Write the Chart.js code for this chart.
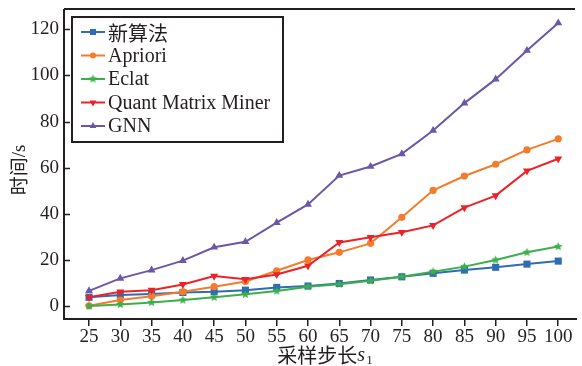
<!DOCTYPE html>
<html>
<head>
<meta charset="utf-8">
<script src="https://cdn.jsdelivr.net/npm/chart.js@4.4.1/dist/chart.umd.min.js"></script>
<style>
  html, body { margin: 0; padding: 0; background: #ffffff; }
  #wrap { width: 582px; height: 366px; }
</style>
</head>
<body>
<div id="wrap"><canvas id="c" width="582" height="366"></canvas></div>
<script>
// Sampling step s1 (x axis)
const steps = [25, 30, 35, 40, 45, 50, 55, 60, 65, 70, 75, 80, 85, 90, 95, 100];
// Run time in seconds for each algorithm
const newAlgorithm = [3.8, 4.8, 5.2, 5.9, 6.2, 6.9, 8.1, 8.7, 9.8, 11.3, 12.7, 14.2, 15.6, 16.8, 18.2, 19.5];
const apriori      = [0.1, 2.6, 4.3, 6.2, 8.4, 10.7, 15.3, 20.0, 23.3, 27.2, 38.5, 50.2, 56.4, 61.5, 67.7, 72.5];
const eclat        = [0.0, 0.7, 1.6, 2.6, 3.8, 5.1, 6.5, 8.4, 9.5, 11.0, 12.7, 14.9, 17.1, 20.0, 23.3, 25.8];
const quantMatrix  = [3.8, 6.2, 6.9, 9.4, 13.0, 11.6, 13.7, 17.5, 27.6, 29.8, 32.0, 35.0, 42.7, 47.9, 58.6, 63.9];
const gnn          = [6.6, 12.0, 15.6, 19.7, 25.5, 27.9, 36.2, 44.1, 56.6, 60.5, 66.0, 76.1, 88.0, 98.4, 110.8, 122.7];
// Axis tick labels
const xTicks = steps;
const yTicks = [0, 20, 40, 60, 80, 100, 120];

const seriesNames = ['新算法', 'Apriori', 'Eclat', 'Quant Matrix Miner', 'GNN'];
const INK = '#231f20';
const SERIF = '"Liberation Serif", "Times New Roman", "Noto Sans CJK SC", serif';
const CJK = '"Noto Sans CJK SC", "Liberation Serif", serif';

// small filled five-point star used as a marker
function makeStar(color, r) {
  const s = Math.ceil(r * 2 + 2);
  const cv = document.createElement('canvas');
  cv.width = s; cv.height = s;
  const g = cv.getContext('2d');
  g.fillStyle = color;
  g.beginPath();
  for (let i = 0; i < 10; i++) {
    const rad = i % 2 === 0 ? r : r * 0.45;
    const a = -Math.PI / 2 + i * Math.PI / 5;
    const px = s / 2 + rad * Math.cos(a), py = s / 2 + rad * Math.sin(a);
    if (i === 0) g.moveTo(px, py); else g.lineTo(px, py);
  }
  g.closePath();
  g.fill();
  return cv;
}

const colors = ['#2e6cb5', '#f47b2c', '#3cae4a', '#ec2227', '#6a57a7'];
const starMarker = makeStar(colors[2], 4.5);

function pts(arr) { return steps.map((x, i) => ({ x: x, y: arr[i] })); }

const styles = [
  { pointStyle: 'rect', pointRadius: 5, rotation: 0 },
  { pointStyle: 'circle', pointRadius: 3.6, rotation: 0 },
  { pointStyle: starMarker, pointRadius: 4.5, rotation: 0 },
  { pointStyle: 'triangle', pointRadius: 4.6, rotation: 180 },
  { pointStyle: 'triangle', pointRadius: 4.6, rotation: 0 }
];
const seriesData = [newAlgorithm, apriori, eclat, quantMatrix, gnn];

const datasets = seriesData.map((arr, i) => ({
  label: seriesNames[i],
  data: pts(arr),
  borderColor: colors[i],
  backgroundColor: colors[i],
  borderWidth: 2,
  pointStyle: styles[i].pointStyle,
  pointRadius: styles[i].pointRadius,
  pointRotation: styles[i].rotation,
  pointBorderWidth: 0,
  pointBackgroundColor: colors[i],
  pointBorderColor: colors[i],
  tension: 0,
  order: 5 - i
}));

// frame, inward y ticks, axis titles and legend box
const decorations = {
  id: 'decorations',
  afterDraw(chart) {
    const { ctx, chartArea: a, scales } = chart;
    ctx.save();
    ctx.strokeStyle = INK;
    ctx.lineWidth = 2;
    ctx.beginPath();
    ctx.moveTo(a.left, a.top); ctx.lineTo(a.right - 2, a.top);
    ctx.moveTo(a.left, a.top); ctx.lineTo(a.left, a.bottom);
    ctx.moveTo(a.left - 1, a.bottom); ctx.lineTo(a.right, a.bottom);
    ctx.stroke();

    ctx.lineWidth = 1.5;
    ctx.beginPath();
    yTicks.forEach(v => {
      const y = Math.round(scales.y.getPixelForValue(v)) + 0.5;
      ctx.moveTo(a.left, y); ctx.lineTo(a.left + 6, y);
    });
    ctx.stroke();

    // y-axis title
    ctx.fillStyle = INK;
    ctx.save();
    ctx.translate(19, 170);
    ctx.rotate(-Math.PI / 2);
    ctx.textBaseline = 'middle';
    ctx.textAlign = 'left';
    ctx.font = '19px ' + CJK;
    const w1 = ctx.measureText('时间').width;
    ctx.font = '19px ' + SERIF;
    const w2 = ctx.measureText('/s').width;
    const start = -(w1 + w2) / 2;
    ctx.font = '19px ' + CJK;
    ctx.fillText('时间', start, 0);
    ctx.font = '19px ' + SERIF;
    ctx.fillText('/s', start + w1, 1);
    ctx.restore();

    // x-axis title
    ctx.save();
    ctx.fillStyle = INK;
    ctx.textBaseline = 'middle';
    ctx.textAlign = 'left';
    const cx = (a.left + a.right) / 2 + 4;
    const ty = 355;
    ctx.font = '20px ' + CJK;
    const xw1 = ctx.measureText('采样步长').width;
    ctx.font = 'italic 20px ' + SERIF;
    const xw2 = ctx.measureText('s').width;
    ctx.font = '13px ' + SERIF;
    const xw3 = ctx.measureText('1').width;
    const x0 = cx - (xw1 + xw2 + xw3) / 2;
    ctx.font = '20px ' + CJK;
    ctx.fillText('采样步长', x0, ty);
    ctx.font = 'italic 20px ' + SERIF;
    ctx.fillText('s', x0 + xw1, ty + 1);
    ctx.font = '13px ' + SERIF;
    ctx.fillText('1', x0 + xw1 + xw2 + 1, ty + 6);
    ctx.restore();

    // legend
    const lx = 72, ly = 17, lw = 211, lh = 125;
    ctx.fillStyle = '#ffffff';
    ctx.fillRect(lx, ly, lw, lh);
    ctx.lineWidth = 2;
    ctx.strokeStyle = INK;
    ctx.strokeRect(lx, ly, lw, lh);
    chart.data.datasets.forEach((ds, i) => {
      const y = 32 + i * 23.5;
      ctx.strokeStyle = ds.borderColor;
      ctx.lineWidth = 2;
      ctx.beginPath();
      ctx.moveTo(81, y); ctx.lineTo(105, y);
      ctx.stroke();
      ctx.fillStyle = ds.borderColor;
      Chart.helpers.drawPoint(ctx, {
        pointStyle: ds.pointStyle,
        rotation: ds.pointRotation,
        radius: ds.pointRadius * 0.85,
        borderWidth: 0
      }, 93, y);
      ctx.fillStyle = INK;
      ctx.textBaseline = 'middle';
      ctx.textAlign = 'left';
      ctx.font = '20px ' + (i === 0 ? CJK : SERIF);
      ctx.fillText(ds.label, 108, y + 1);
    });
    ctx.restore();
  }
};

new Chart(document.getElementById('c'), {
  type: 'line',
  data: { datasets: datasets },
  options: {
    responsive: false,
    animation: false,
    layout: { padding: { top: 9, right: 4, left: 0, bottom: 0 } },
    plugins: { legend: { display: false }, tooltip: { enabled: false } },
    scales: {
      x: {
        type: 'linear',
        min: 21,
        max: 103,
        afterBuildTicks(scale) { scale.ticks = xTicks.map(v => ({ value: v })); },
        afterFit(scale) {
          scale.height = 47;
          scale.paddingLeft = 0; scale.paddingRight = 0;
        },
        border: { display: false },
        grid: { drawOnChartArea: false, drawTicks: true, tickLength: 7, color: INK, lineWidth: 1.5 },
        ticks: { color: INK, font: { family: SERIF, size: 19 }, padding: 0, maxRotation: 0, autoSkip: false }
      },
      y: {
        min: -5.6,
        max: 128.8,
        afterBuildTicks(scale) { scale.ticks = yTicks.map(v => ({ value: v })); },
        afterFit(scale) {
          scale.width = 64;
          scale.paddingTop = 0; scale.paddingBottom = 0;
        },
        border: { display: false },
        grid: { display: false, drawTicks: false },
        ticks: { color: INK, font: { family: SERIF, size: 19 }, padding: 5 }
      }
    }
  },
  plugins: [decorations]
});
</script>
</body>
</html>
